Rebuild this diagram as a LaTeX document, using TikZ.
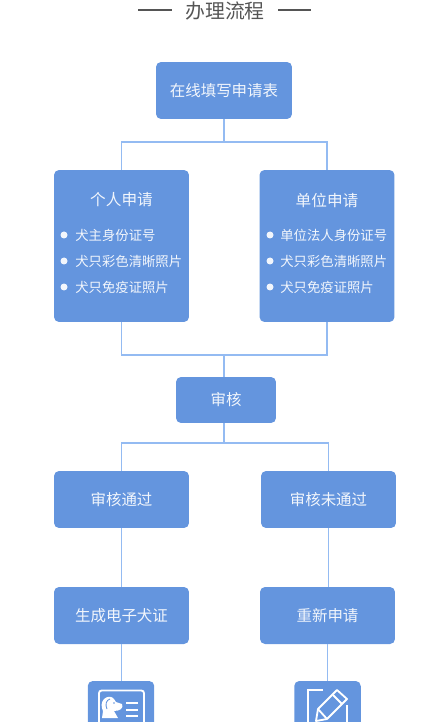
\documentclass[tikz,border=0pt]{standalone}
\usepackage{fontspec}
\setmainfont{Noto Sans CJK SC}
\usepackage{tikz}
\usetikzlibrary{positioning,calc}
\definecolor{flowblue}{HTML}{6495DE}
\definecolor{flowline}{HTML}{94BBF2}
\definecolor{flowgray}{HTML}{555555}
\definecolor{flowtext}{HTML}{F2F6FC}

\begin{document}
\begin{tikzpicture}[x=0.02cm,y=-0.02cm,
  box/.style={fill=flowblue,rounded corners=0.1cm,inner sep=0pt,text=flowtext,font=\fontsize{8.8}{10}\selectfont,minimum height=1.14cm},
  wide/.style={box,minimum width=2.7cm},
  apply/.style={box,minimum width=2.7cm,minimum height=3.04cm},
  iconn/.style={box,minimum width=1.33cm,minimum height=1.2cm},
  head/.style={text=flowtext,inner sep=0pt,font=\fontsize{8.9}{10}\selectfont},
  item/.style={text=flowtext,inner sep=0pt,anchor=west,font=\fontsize{7.6}{9}\selectfont},
  dot/.style={circle,fill=flowtext,inner sep=0pt,minimum size=0.14cm},
  link/.style={draw=flowline,line width=0.85pt},
  mark line/.style={draw=flowgray,line width=0.7pt},
  icon line/.style={draw=white,line width=1.05pt}]
\useasboundingbox (0,0) rectangle (447,722);
\clip (0,0) rectangle (447,722);
% title
\node[text=flowgray,inner sep=0pt,font=\fontsize{11.3}{13}\selectfont] (title) at (225,11) {办理流程};
\coordinate (tl) at (138,10);
\coordinate (tr) at (311,10);
\draw[mark line] (tl) -- ($(title.west |- tl)+(-13,0)$);
\draw[mark line] ($(title.east |- tr)+(13,0)$) -- (tr);
% joints
\coordinate (j1) at (224,142);
\coordinate (j2) at (224,355);
\coordinate (j3) at (224,443);
% boxes
\node[box,minimum width=2.72cm] (online) at (224,90.5) {在线填写申请表};
\node[apply] (person) at (121.5,246) {};
\node[apply] (unit) at (327,246) {};
\node[box,minimum width=2cm,minimum height=0.92cm] (review) at (226,400) {审核};
\node[wide] (pass) at (121.5,499.5) {审核通过};
\node[wide] (fail) at (328.5,499.5) {审核未通过};
\node[wide] (card) at (121.5,615.5) {生成电子犬证};
\node[wide] (again) at (327.5,615.5) {重新申请};
\node[iconn] (cardicon) at (121,711) {};
\node[iconn] (againicon) at (327.5,711) {};
% connectors
\draw[link] (online.south) -- (j1);
\draw[link] (person.north) |- (j1) -| (unit.north);
\draw[link] (person.south) |- (j2) -| (unit.south);
\draw[link] (j2) -- (j2 |- review.north);
\draw[link] (j2 |- review.south) -- (j3);
\draw[link] (pass.north) |- (j3) -| (fail.north);
\draw[link] (pass.south) -- (card.north);
\draw[link] (fail.south) -- (fail.south |- again.north);
\draw[link] (card.south) -- (card.south |- cardicon.north);
\draw[link] (again.south) -- (again.south |- againicon.north);
% left list
\node[head] (persont) at (121.5,200) {个人申请};
\node[dot] (p1) at (64,235) {};
\node[dot] (p2) at (64,261) {};
\node[dot] (p3) at (64,287) {};
\node[item] at (75,235) {犬主身份证号};
\node[item] at (75,261) {犬只彩色清晰照片};
\node[item] at (75,287) {犬只免疫证照片};
% right list
\node[head] (unitt) at (327,200) {单位申请};
\node[dot] (u1) at (270,235) {};
\node[dot] (u2) at (270,261) {};
\node[dot] (u3) at (270,287) {};
\node[item] at (280,235) {单位法人身份证号};
\node[item] at (280,261) {犬只彩色清晰照片};
\node[item] at (280,287) {犬只免疫证照片};
% id card icon
\draw[icon line,rounded corners=1.5pt] (99,730) -- (99,690.5) -- (144,690.5) -- (144,730);
\fill[white] (104,699) .. controls (107,696) and (112,696) .. (114,699) -- (116,702) -- (122,704)
  .. controls (124,708) and (120,711) .. (114,711) -- (118,718) -- (102,718) -- (103,711)
  .. controls (101,707) and (101,702) .. (104,699) -- cycle;
\draw[flowblue,line width=0.5pt] (110,699) .. controls (106,700) and (105,705) .. (107,709);
\fill[flowblue] (114,703) circle (0.9);
\foreach \y in {703,710,716}{\draw[icon line] (126,\y) -- (138,\y);}
% pencil icon
\draw[icon line] (323,690) -- (308,690) -- (308,730);
\draw[icon line] (347,705) -- (347,730);
\draw[icon line,line join=round] (316,721) -- (318,709) -- (337,690) -- (347,699) -- (327,719) -- cycle;
\draw[icon line] (333,695) -- (342,704);
\draw[icon line] (318,709) -- (327,719);
\end{tikzpicture}
\end{document}
